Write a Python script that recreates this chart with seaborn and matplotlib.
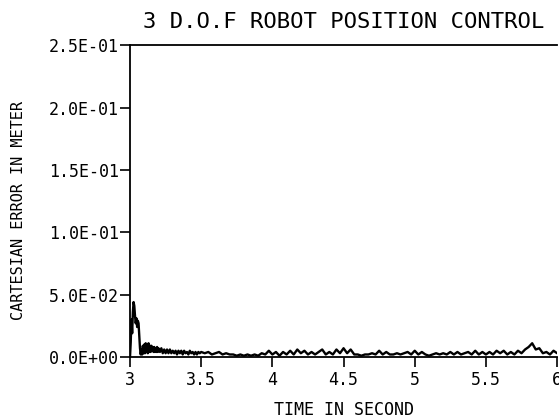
import matplotlib
matplotlib.use("Agg")
import matplotlib.pyplot as plt
import seaborn as sns
import pandas as pd

# time stamps (s) and cartesian error (m)
time_a = [3.000, 3.005, 3.010, 3.015, 3.020, 3.025, 3.030, 3.035, 3.040, 3.045,
          3.050, 3.055, 3.060, 3.065, 3.070, 3.075, 3.080, 3.085, 3.090, 3.095,
          3.100, 3.105, 3.110, 3.115, 3.120, 3.125, 3.130, 3.135, 3.140, 3.145,
          3.150, 3.155, 3.160, 3.165, 3.170, 3.175, 3.180, 3.185, 3.190, 3.195,
          3.200]
err_a = [0.000, 0.012, 0.030, 0.019, 0.036, 0.044, 0.041, 0.033, 0.027, 0.031,
         0.024, 0.029, 0.027, 0.017, 0.007, 0.002, 0.006, 0.002, 0.009, 0.003,
         0.010, 0.003, 0.011, 0.004, 0.010, 0.003, 0.011, 0.004, 0.009, 0.004,
         0.009, 0.005, 0.008, 0.004, 0.008, 0.004, 0.007, 0.004, 0.008, 0.004,
         0.007]

time_b = [3.21, 3.22, 3.23, 3.24, 3.25, 3.26, 3.27, 3.28, 3.29, 3.30,
          3.31, 3.32, 3.33, 3.34, 3.35, 3.36, 3.37, 3.38, 3.39, 3.40,
          3.41, 3.42, 3.43, 3.44, 3.45, 3.46, 3.47, 3.48, 3.49, 3.50]
err_b = [0.004, 0.007, 0.003, 0.006, 0.003, 0.006, 0.003, 0.006, 0.003, 0.005,
         0.003, 0.005, 0.002, 0.005, 0.003, 0.005, 0.002, 0.005, 0.003, 0.004,
         0.002, 0.005, 0.003, 0.004, 0.002, 0.004, 0.002, 0.004, 0.003, 0.004]

time_c = [3.525, 3.550, 3.575, 3.600, 3.625, 3.650, 3.675, 3.700, 3.725, 3.750,
          3.775, 3.800, 3.825, 3.850, 3.875, 3.900, 3.925, 3.950, 3.975, 4.000,
          4.025, 4.050, 4.075, 4.100, 4.125, 4.150, 4.175, 4.200, 4.225, 4.250,
          4.275, 4.300, 4.325, 4.350, 4.375, 4.400, 4.425, 4.450, 4.475, 4.500,
          4.525, 4.550, 4.575, 4.600, 4.625, 4.650, 4.675, 4.700, 4.725, 4.750,
          4.775, 4.800, 4.825, 4.850, 4.875, 4.900, 4.925, 4.950, 4.975, 5.000,
          5.025, 5.050, 5.075, 5.100, 5.125, 5.150, 5.175, 5.200, 5.225, 5.250,
          5.275, 5.300, 5.325, 5.350, 5.375, 5.400, 5.425, 5.450, 5.475, 5.500,
          5.525, 5.550, 5.575, 5.600, 5.625, 5.650, 5.675, 5.700, 5.725, 5.750,
          5.775, 5.800, 5.825, 5.850, 5.875, 5.900, 5.925, 5.950, 5.975, 6.000]
err_c = [0.003, 0.004, 0.002, 0.003, 0.004, 0.002, 0.003, 0.002, 0.002, 0.001,
         0.002, 0.001, 0.002, 0.001, 0.002, 0.001, 0.003, 0.002, 0.005, 0.002,
         0.004, 0.001, 0.004, 0.002, 0.005, 0.002, 0.006, 0.003, 0.005, 0.002,
         0.004, 0.002, 0.004, 0.006, 0.002, 0.004, 0.002, 0.006, 0.003, 0.007,
         0.003, 0.006, 0.002, 0.002, 0.001, 0.002, 0.002, 0.003, 0.002, 0.005,
         0.002, 0.004, 0.002, 0.002, 0.003, 0.002, 0.003, 0.004, 0.002, 0.005,
         0.002, 0.004, 0.002, 0.001, 0.002, 0.003, 0.002, 0.003, 0.002, 0.004,
         0.002, 0.004, 0.002, 0.003, 0.004, 0.002, 0.005, 0.002, 0.004, 0.002,
         0.004, 0.002, 0.005, 0.003, 0.005, 0.002, 0.004, 0.002, 0.005, 0.003,
         0.006, 0.008, 0.011, 0.006, 0.007, 0.003, 0.004, 0.002, 0.005, 0.003]

x_ticks = [3, 3.5, 4, 4.5, 5, 5.5, 6]
x_labels = ["3", "3.5", "4", "4.5", "5", "5.5", "6"]
y_ticks = [0.0, 0.05, 0.10, 0.15, 0.20, 0.25]
y_labels = ["0.0E+00", "5.0E-02", "1.0E-01", "1.5E-01", "2.0E-01", "2.5E-01"]

df = pd.DataFrame({"t": time_a + time_b + time_c,
                   "err": err_a + err_b + err_c})

sns.set_style("ticks")
# plotter-like lettering: monospaced
plt.rcParams["font.family"] = ["DejaVu Sans Mono"]

fig = plt.figure(figsize=(5.59, 4.18), dpi=100)
ax = fig.add_axes([0.2326, 0.146, 0.764, 0.746])

sns.lineplot(data=df, x="t", y="err", color="black", linewidth=1.7, ax=ax)

ax.set_xlim(3, 6)
ax.set_ylim(0, 0.25)
ax.set_xticks(x_ticks)
ax.set_xticklabels(x_labels)
ax.set_yticks(y_ticks)
ax.set_yticklabels(y_labels)
ax.tick_params(axis="both", direction="out", length=7, width=1.2,
               labelsize=12, colors="black")
ax.tick_params(axis="x", pad=3)
ax.tick_params(axis="y", pad=1)

for side in ["left", "bottom", "top"]:
    ax.spines[side].set_linewidth(1.3)
    ax.spines[side].set_color("black")
ax.spines["right"].set_visible(False)

ax.set_title("3 D.O.F ROBOT POSITION CONTROL", fontsize=16, pad=12, color="black")
ax.set_xlabel("TIME IN SECOND", fontsize=12, labelpad=9, color="black")
ax.set_ylabel("CARTESIAN ERROR IN METER", fontsize=11, color="black")
ax.yaxis.set_label_coords(-0.243, 0.47)

plt.savefig("out.png", dpi=100)
